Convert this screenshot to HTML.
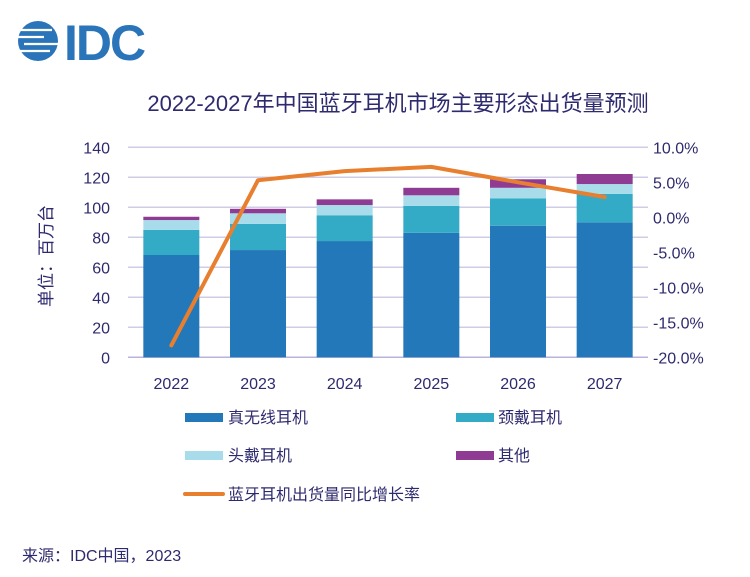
<!DOCTYPE html>
<html><head><meta charset="utf-8">
<style>
body{margin:0;background:#fff;width:750px;height:572px;overflow:hidden;font-family:"Liberation Sans","Noto Sans CJK SC",sans-serif;}
svg text{font-family:"Liberation Sans","Noto Sans CJK SC",sans-serif;}
</style></head>
<body>
<svg id="chart" width="750" height="572" viewBox="0 0 750 572">
  <g>
    <circle cx="38" cy="41" r="20" fill="#2a74b9"/>
    <g stroke="#fff" stroke-width="2.2">
      <line x1="16" y1="30" x2="52" y2="30"/><line x1="16" y1="37" x2="44" y2="37"/>
      <line x1="24" y1="44" x2="60" y2="44"/><line x1="16" y1="51" x2="50" y2="51"/>
    </g>
    <text x="64" y="60" font-size="50" font-weight="bold" fill="#2a74b9" letter-spacing="-2">IDC</text>
  </g>
  <text x="398" y="111" font-size="22" fill="#2e2a6e" text-anchor="middle">2022-2027年中国蓝牙耳机市场主要形态出货量预测</text>
  <g id="grid"></g><g id="bars"></g><g id="line"></g><g id="axes"></g>
  <text transform="translate(52,256) rotate(-90)" font-size="17" fill="#2e2a6e" text-anchor="middle">单位：百万台</text>
  <g font-size="16" fill="#2e2a6e">
    <rect x="185" y="413" width="38" height="9" fill="#2278b8"/>
    <text x="228" y="423">真无线耳机</text>
    <rect x="456" y="413" width="38" height="9" fill="#33abc6"/>
    <text x="498" y="423">颈戴耳机</text>
    <rect x="185" y="451" width="38" height="9" fill="#a8dcea"/>
    <text x="228" y="461">头戴耳机</text>
    <rect x="456" y="451" width="38" height="9" fill="#8f3b93"/>
    <text x="498" y="461">其他</text>
    <line x1="185" y1="494" x2="223" y2="494" stroke="#e87f2f" stroke-width="4" stroke-linecap="round"/>
    <text x="228" y="500">蓝牙耳机出货量同比增长率</text>
  </g>
  <text x="22" y="561" font-size="16" fill="#2e2a6e">来源：IDC中国，2023</text>
</svg>
<script>
const categories=["2022","2023","2024","2025","2026","2027"];
const tws=[68.2,71.5,77.5,83,87.7,90];
const neckband=[16.7,17.4,17.2,17.9,18.3,18.9];
const headphone=[6.6,7.1,6.8,7.1,7,6.6];
const other=[2.2,3,3.8,5,5.7,6.7];
const growth=[-18.3,5.3,6.6,7.2,5.0,2.9];
const leftTicks=[0,20,40,60,80,100,120,140];
const rightTicks=[-20,-15,-10,-5,0,5,10];
const NS="http://www.w3.org/2000/svg";
const x0=128,x1=648,yb=357.3,yt=147.3;
const band=(x1-x0)/categories.length,bw=56;
const yL=v=>yb-(v/140)*(yb-yt);
const yR=v=>yb-((v+20)/30)*(yb-yt);
const xc=i=>x0+band*(i+0.5);
function mk(t,a,p){const e=document.createElementNS(NS,t);for(const k in a)e.setAttribute(k,a[k]);p.appendChild(e);return e;}
const grid=document.getElementById('grid'),bars=document.getElementById('bars'),ln=document.getElementById('line'),ax=document.getElementById('axes');
leftTicks.forEach(v=>{
  const l=mk('line',{x1:x0,x2:x1,y1:yL(v),y2:yL(v),stroke:v===0?'#b6b3dc':'#cfcde6','stroke-width':1.5},grid);
  
  
  const t=mk('text',{x:110,y:yL(v)+6,'font-size':16,fill:'#2e2a6e','text-anchor':'end'},ax);
  t.textContent=v;
  
  
});
rightTicks.forEach(v=>{
  const t=mk('text',{x:653,y:yR(v)+6,'font-size':16,fill:'#2e2a6e'},ax);
  t.textContent=v.toFixed(1)+'%';
  
  
});
const series=[[tws,'#2278b8','tws'],[neckband,'#33abc6','neckband'],[headphone,'#a8dcea','headphone'],[other,'#8f3b93','other']];
categories.forEach((c,i)=>{
  let base=0;
  series.forEach(([arr,col,nm])=>{
    const r=mk('rect',{x:xc(i)-bw/2,y:yL(base+arr[i]),width:bw,height:yL(base)-yL(base+arr[i]),fill:col},bars);
    
    
    base+=arr[i];
  });
  const t=mk('text',{x:xc(i),y:389,'font-size':16,fill:'#2e2a6e','text-anchor':'middle'},ax);
  t.textContent=c;
  
  
});
const pl=mk('polyline',{points:growth.map((v,i)=>xc(i)+','+yR(v)).join(' '),fill:'none',stroke:'#e87f2f','stroke-width':4,'stroke-linejoin':'round','stroke-linecap':'round'},ln);


</script>
</body></html>
